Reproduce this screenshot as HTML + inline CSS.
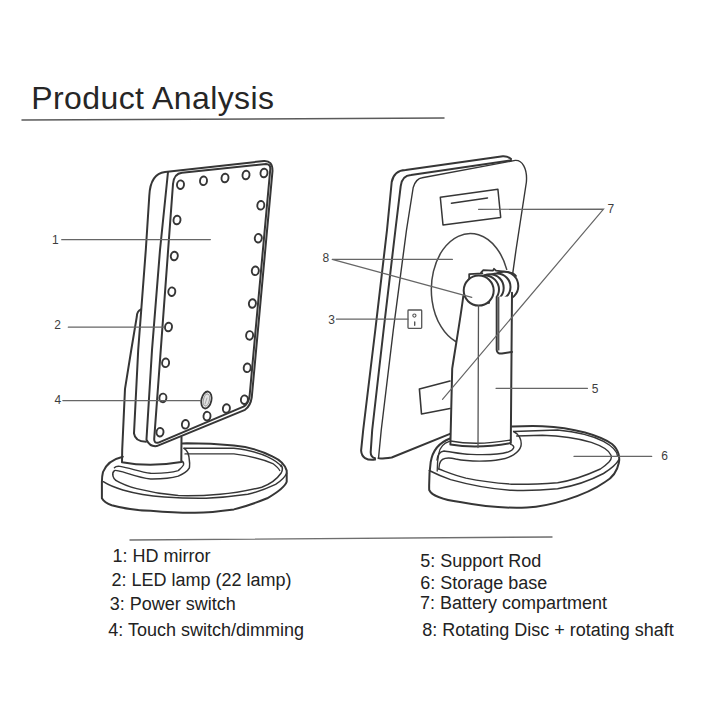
<!DOCTYPE html>
<html><head><meta charset="utf-8">
<style>
html,body{margin:0;padding:0;background:#fff;}
body{width:720px;height:720px;position:relative;overflow:hidden;font-family:"Liberation Sans",sans-serif;}
svg{position:absolute;left:0;top:0;}
.t{position:absolute;white-space:nowrap;color:#222;line-height:1;}
.li{font-size:18px;}
</style></head><body>
<svg width="720" height="720" viewBox="0 0 720 720">
<g fill="none" stroke-linecap="round" stroke-linejoin="round">
<!-- title underline & separator -->
<path d="M22,120 L444,118" stroke="#5a5a5a" stroke-width="1.5"/>
<path d="M130,540 L552,537" stroke="#6e6e6e" stroke-width="1.4"/>
</g>
<text x="31.2" y="108.5" font-family="Liberation Sans" font-size="32" letter-spacing="0.42" fill="#262626">Product Analysis</text>
<g fill="none" stroke="#363636" stroke-width="2" stroke-linecap="round" stroke-linejoin="round">
<!-- LEFT MIRROR -->
<!-- back housing left side + top + right edge -->
<path d="M134,433.3 L138.2,350 L145.8,250 L149.3,195.8 C150,181 156,173 165,172 L264,161 Q272.5,160.5 272.5,170.8 L251.8,397 Q250.5,406 245,409.8 L156.7,446.1 Q150,447 146.6,440"/>
<path d="M134,433.3 Q135,441.5 146,441.7"/>
<!-- frame line B -->
<path d="M168,172 L160,250 L152,350 L146.5,439"/>
<!-- mirror border line C -->
<path d="M173,184 Q174,173.5 182,172.8 L266,164 Q270.5,164 270.3,169 L249.6,396 Q248.5,403.5 243.5,406.7 L158.5,442.6 Q154,443.8 154.2,438.9 Z"/>
<!-- rod left -->
<path d="M141,309.4 Q137,311 136.8,316.7 L131.25,350 L125,388.9 L122.2,450 L122,462.2 Q150,467.5 181.3,462 L181.5,437"/>
<!-- base left -->
<path d="M122.8,456.7 C113,459 106,464 103,472 C102,476 101.9,479 101.9,481.7 L101.9,498.3 C104,502 108,504 111.7,505.3 C125,509 140,510.5 150.6,510.8 C165,512 180,513 195,512.8 C210,512.5 222,511 233.9,509.4 C248,506 258,502 267.2,498.3 C278,492 285,487 286.7,481.7 L286.7,470.6 C285,465 280,460 272.8,456.7 C262,451 250,447 233.9,445.6 C218,444 200,443.3 186.7,443.3 L182.5,443.5"/>
<path d="M103.3,481.7 C110,486 116,488 122.8,490 C135,493.5 150,496 164.4,497 C178,498 192,498.5 206,498.3 C222,497.5 235,496 247.8,494.2 C258,492 268,488 275.6,484.4 C281,481 285,477 286.7,473.3" stroke-width="1.5"/>
<path d="M115.8,480.3 C122,484 129,486.5 136.7,488.6 C150,492 165,494.5 178.3,495.6 C192,496 206,495.5 220,494.2 C236,493 250,490 261.7,487.2 C271,484 277,479 281,473.3 C283,470 282.5,467 281,465" stroke-width="1.5"/>
<path d="M184,448.3 L233.9,448.3 C248,450 260,453 267.2,456.7 C274,460 279,463 281,466.4" stroke-width="1.4"/>
<path d="M185,453.9 L233.9,453.9 C250,456 262,459 272.8,463.6 C276,466 278.5,468 279.7,470.6" stroke-width="1.3"/>
<path d="M184,448.3 Q189,451 189.4,461 C190,464 189.5,466 189.4,467.8 C187,472 183,474 178.3,476.1 C170,478.5 160,479 150.6,478.9 C140,478 130,474 122.8,471.9 C118,470.5 115,470 114.4,470.6 C112.5,472 112.5,474 113,476.1 C113.5,478 114.5,479.5 115.8,480.3" stroke-width="1.5"/>
<path d="M181.5,461 C184,462 184,463 183.5,465 C182,467.5 180,469 178.3,470.6 C170,473 160,473.5 150.6,473.3 C140,472 130,468 120,466.4 C117,466 115.5,466.5 114.4,467.8" stroke-width="1.4"/>
<!-- LEDs -->
<g stroke-width="1.9"><ellipse cx="180.5" cy="184.7" rx="3.5" ry="4.3" transform="rotate(8 180.5 184.7)"/><ellipse cx="203.5" cy="180.8" rx="3.5" ry="4.3" transform="rotate(8 203.5 180.8)"/><ellipse cx="225" cy="178" rx="3.5" ry="4.3" transform="rotate(8 225 178)"/><ellipse cx="246" cy="175" rx="3.5" ry="4.3" transform="rotate(8 246 175)"/><ellipse cx="264" cy="173" rx="3.5" ry="4.3" transform="rotate(8 264 173)"/><ellipse cx="260.8" cy="205.3" rx="3.5" ry="4.3" transform="rotate(8 260.8 205.3)"/><ellipse cx="258.3" cy="238.2" rx="3.5" ry="4.3" transform="rotate(8 258.3 238.2)"/><ellipse cx="255.3" cy="270.8" rx="3.5" ry="4.3" transform="rotate(8 255.3 270.8)"/><ellipse cx="252.4" cy="303.5" rx="3.5" ry="4.3" transform="rotate(8 252.4 303.5)"/><ellipse cx="249.6" cy="335.4" rx="3.5" ry="4.3" transform="rotate(8 249.6 335.4)"/><ellipse cx="247.2" cy="367.8" rx="3.5" ry="4.3" transform="rotate(8 247.2 367.8)"/><ellipse cx="244.4" cy="399.7" rx="3.5" ry="4.3" transform="rotate(8 244.4 399.7)"/><ellipse cx="226.4" cy="408.5" rx="3.5" ry="4.3" transform="rotate(8 226.4 408.5)"/><ellipse cx="207" cy="416.1" rx="3.5" ry="4.3" transform="rotate(8 207 416.1)"/><ellipse cx="185.4" cy="424.3" rx="3.5" ry="4.3" transform="rotate(8 185.4 424.3)"/><ellipse cx="160" cy="432.2" rx="3.5" ry="4.3" transform="rotate(8 160 432.2)"/><ellipse cx="162.9" cy="397.9" rx="3.5" ry="4.3" transform="rotate(8 162.9 397.9)"/><ellipse cx="165.6" cy="362.8" rx="3.5" ry="4.3" transform="rotate(8 165.6 362.8)"/><ellipse cx="168.5" cy="327" rx="3.5" ry="4.3" transform="rotate(8 168.5 327)"/><ellipse cx="171.8" cy="291.7" rx="3.5" ry="4.3" transform="rotate(8 171.8 291.7)"/><ellipse cx="174.3" cy="256" rx="3.5" ry="4.3" transform="rotate(8 174.3 256)"/><ellipse cx="177" cy="220" rx="3.5" ry="4.3" transform="rotate(8 177 220)"/></g>
<!-- touch switch -->
<ellipse cx="206.4" cy="400" rx="5" ry="8.6" transform="rotate(12 206.4 400)" stroke-width="1.8"/>
<ellipse cx="206.4" cy="400" rx="3" ry="6.2" transform="rotate(12 206.4 400)" stroke="#999" fill="#e2e2e2" stroke-width="1.1"/><path d="M205,404 L207,398" stroke="#aaa" stroke-width="1"/>

<!-- RIGHT MIRROR -->
<path d="M375,459.6 Q362,461 361.1,450.6 L363.2,430 L375.3,330 L387,230 L391.7,182 Q394,170.5 405.6,170.1 L502.8,156.25 Q508,156 511,159"/>
<path d="M375,458.2 Q370,457 370.8,450.6 L372.2,430 L383.6,330 L395.4,230 L400.7,186.1 Q402,175.5 411,175 L511,160.4"/>
<path d="M378.5,458.2 L381.25,430 L393.3,330 L406.5,230 L413.2,187.5 Q416,178.5 422.2,177.8 L515.3,160.4 C522,160 527.5,168 526.4,182 L516,250 L512.8,272.8" stroke-width="1.4"/>
<path d="M378.5,458.2 Q380,459 391.7,457.5 L450,433.9"/>
<!-- battery compartment -->
<path d="M440.3,197.2 L497.9,189.3 L500.7,217.4 L443,225 Z" stroke-width="1.5"/>
<path d="M451.4,203.2 L487.5,197.9" stroke-width="1.5"/>
<!-- battery cover -->
<path d="M450,381 L419.4,389 L421.5,414 L450,408.5" stroke-width="1.6"/>
<!-- power switch -->
<rect x="408" y="310" width="13.7" height="18.3" rx="0.8" stroke="#555" stroke-width="1.3"/>
<circle cx="414.4" cy="315.6" r="1.6" stroke="#555" stroke-width="1.1"/>
<path d="M414.7,322 L414.7,325.3" stroke="#555" stroke-width="1.4"/>
<!-- disc -->
<path d="M455.7,341.5 A39,56 0 1 1 506.7,269.4" stroke-width="1.5" stroke="#444"/>
<!-- knob rings -->
<path d="M469.2,280 L469.2,274.1 L482.4,273.3 L481,272.6 L483.3,270.2 L493,270.7 L494,268.8 L496,270.7 L508.6,272.1 Q514,273 516,276" fill="#fff" stroke-width="1.8"/>
<circle cx="504" cy="286" r="14.3" fill="#fff"/>
<circle cx="497" cy="287" r="13.5" fill="#fff"/>
<circle cx="490" cy="288" r="13.7" fill="#fff"/>
<circle cx="485" cy="289.5" r="14" fill="#fff"/>
<rect x="490" y="296.6" width="21" height="10" fill="#fff" stroke="none"/>
<circle cx="478.7" cy="290.6" r="15" fill="#fff"/>
<!-- rod -->
<path d="M463.3,296 C461,315 455,350 452.2,368.6 L450.4,444.4 Q477,449 510.8,443 L512,292.8"/>
<path d="M450.4,441 Q477,446 510.8,440" stroke-width="1.4"/>
<path d="M478.5,305.6 L478,447.5" stroke-width="1.3" stroke="#555"/>
<path d="M496.7,297 L496.7,350 Q497,354 502,353.5 L512,352"/>
<path d="M498.75,297 L498.75,350" stroke-width="1.2"/>
<!-- base right -->
<path d="M450,438.5 C438,443 432.6,450.6 430.7,462 C429.5,470 429,480 429.2,490 C432,496 445,500 460,502 C481,506 505,508.5 527,507.5 C549,506.5 585,496 605,482 C612,478 617,472 618.8,463 C620,458 619,450 612,444 C600,436 575,427.5 542.3,426.2 C530,425.8 520,426.2 511.7,426.5"/>
<path d="M429.2,470.5 C436,474 443,477 450.6,479.6 C470,485 490,489 511.7,490.3 C530,491 545,490 557.6,488.8 C580,485 595,478 603.5,473.5 C612,468 617,463 618.8,459.8" stroke-width="1.5"/>
<path d="M513.6,431.5 L557.6,430 C580,432 595,437 603.5,441.4 C612,446 617,451 617.5,456" stroke-width="1.4"/>
<path d="M516.7,436 L542.3,435.3 C565,436 580,439 591.3,442.4 C602,446 609,450 611,455.2 C612,458 611,460 609,462 C605,466 602,468 600.4,469 C585,476 570,481 557.6,482.7 C540,484 525,484.5 511.7,484.2 C495,483 480,481 465.9,478.1 C455,475.5 447,472 438.8,469" stroke-width="1.4"/>
<path d="M513.6,431.5 C519,434 522,440 521,446 C519,453 510,458 500,459.5 C490,461.5 470,462 455.6,459 C447,457 441,458 439.5,464 L438.8,469" stroke-width="1.4"/>
<path d="M510.6,444.4 C516,446 514,450 508,452 C498,455 485,455 470.8,454.4 C460,454 450,451.5 444,451 C440,451.5 437.5,455 437,460" stroke-width="1.4"/>
<path d="M449.4,441.4 C444,443 440,447 438.8,453.6 C437.5,460 437.2,466 437.2,471" stroke-width="1.3"/>
</g>
<!-- label lines -->
<g fill="none" stroke="#666" stroke-width="1.2" stroke-linecap="round">
<path d="M61.7,239.7 L210.4,239.6"/>
<path d="M68.3,327.2 L164,327.1"/>
<path d="M62.8,400.6 L200.8,400.6"/>
<path d="M332.2,259.4 L452.4,259.4 M332.2,259.4 L471.8,297.4"/>
<path d="M478.5,209.3 L603.5,209.2 L442.5,399.3"/>
<path d="M336.4,319.2 L408,319.2"/>
<path d="M496,388.3 L587.5,388.3"/>
<path d="M574,456.4 L651.7,456.4"/>
</g>
<g font-family="Liberation Sans" font-size="12" fill="#3d3d3d">
<text x="52" y="244.2">1</text>
<text x="54.3" y="328.9">2</text>
<text x="54.5" y="404.4">4</text>
<text x="322.6" y="261.7">8</text>
<text x="328.2" y="324.2">3</text>
<text x="607.5" y="213">7</text>
<text x="591.8" y="393">5</text>
<text x="661.3" y="460.3">6</text>
</g>

</svg>
<div class="t li" style="left:112.5px;top:547px">1: HD mirror</div>
<div class="t li" style="left:111.5px;top:571px">2: LED lamp (22 lamp)</div>
<div class="t li" style="left:109.8px;top:595px">3: Power switch</div>
<div class="t li" style="left:108.3px;top:620.5px">4: Touch switch/dimming</div>
<div class="t li" style="left:420.2px;top:551.6px">5: Support Rod</div>
<div class="t li" style="left:420.2px;top:574px">6: Storage base</div>
<div class="t li" style="left:420px;top:593.5px">7: Battery compartment</div>
<div class="t li" style="left:422.2px;top:620.5px">8: Rotating Disc + rotating shaft</div>
</body></html>
